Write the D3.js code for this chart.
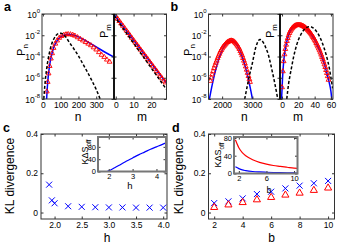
<!DOCTYPE html>
<html lang="en">
<head>
<meta charset="UTF-8">
<title>P_n / P_m distributions and KL divergence</title>
<script src="https://d3js.org/d3.v7.min.js"></script>
<style>
  body { margin: 0; background: #fff; }
  svg { font-family: Arial, "Liberation Sans", Helvetica, sans-serif; }
</style>
</head>
<body>
<div id="chart"></div>
<script>
// ---------- data (probabilities given as log10 values) ----------

// panel a, left (n)
const aBlueN   = [21, 25, 30, 40, 50, 60, 80, 100, 120, 140, 160, 200, 250, 300, 350, 400];
const aBlueLog = [-8, -6.9, -5.9, -4.6, -3.8, -3.2, -2.5, -2.15, -1.97, -1.9, -1.92, -2.15, -2.6, -3.1, -3.6, -4.05];
const aRedN    = [22, 27, 32, 38, 45, 52, 60, 70, 80, 92, 105, 118, 130, 142, 155, 168, 180, 195, 210, 225, 240, 255, 270, 285, 300, 315, 330, 345, 360, 375];
const aRedLog  = [-7.3, -6.4, -5.6, -4.9, -4.2, -3.7, -3.2, -2.8, -2.5, -2.25, -2.08, -1.97, -1.92, -1.9, -1.92, -1.97, -2.05, -2.2, -2.35, -2.5, -2.65, -2.8, -2.95, -3.15, -3.35, -3.6, -3.85, -4.05, -4.3, -4.5];
const aDashN   = [5, 10, 15, 20, 30, 40, 50, 60, 75, 90, 100, 115, 130, 150, 175, 200, 225, 250, 275, 300, 322];
const aDashLog = [-8, -6.9, -6.0, -5.3, -4.2, -3.4, -2.8, -2.4, -2.0, -1.82, -1.8, -1.9, -2.2, -2.7, -3.3, -3.95, -4.7, -5.45, -6.25, -7.1, -8];

// panel a, right (m)
const aMBlueM   = [-1, 5, 10, 15, 20, 25, 28.5];
const aMBlueLog = [-0.05, -1.35, -2.45, -3.55, -4.65, -5.75, -6.5];
const aMRedM    = [0, 1, 2, 3, 4, 5, 6, 7, 8, 9, 10, 11, 12, 13, 14, 15, 16, 17, 18, 19, 20, 21, 22, 23, 24, 25, 26, 27, 28];
const aMRedLog  = [-0.2, -0.45, -0.67, -0.9, -1.12, -1.35, -1.57, -1.8, -2.02, -2.25, -2.47, -2.7, -2.92, -3.14, -3.37, -3.59, -3.82, -4.04, -4.26, -4.49, -4.71, -4.94, -5.16, -5.38, -5.61, -5.83, -6.06, -6.28, -6.45];
const aMDashM   = [-1, 28.5];
const aMDashLog = [-0.15, -7.1];

// panel b, left (n)
const bBlueN   = [1580, 1650, 1750, 1850, 1950, 2050, 2150, 2250, 2300, 2350, 2450, 2550, 2650, 2750, 2850, 2950, 3000];
const bBlueLog = [-8, -6.97, -5.68, -4.61, -3.76, -3.13, -2.71, -2.52, -2.5, -2.54, -2.78, -3.24, -3.91, -4.81, -5.92, -7.25, -8];
const bRedN    = [1610, 1640, 1670, 1700, 1730, 1760, 1790, 1820, 1850, 1880, 1910, 1940, 1970, 2000, 2030, 2060, 2090, 2120, 2150, 2180, 2210, 2240, 2270, 2300, 2330, 2360, 2390, 2420, 2450, 2480, 2510, 2540, 2570, 2600, 2630, 2660, 2690, 2720, 2750, 2780, 2810, 2840, 2870, 2900, 2920];
const bRedLog  = [-6.3, -6.0, -5.7, -5.4, -5.1, -4.85, -4.6, -4.4, -4.15, -3.95, -3.75, -3.55, -3.4, -3.25, -3.1, -3.0, -2.9, -2.8, -2.7, -2.65, -2.6, -2.55, -2.52, -2.5, -2.52, -2.55, -2.6, -2.68, -2.77, -2.88, -3.0, -3.15, -3.3, -3.5, -3.7, -3.9, -4.15, -4.4, -4.65, -4.95, -5.25, -5.55, -5.85, -6.15, -6.4];
const bDashN   = [2745, 2800, 2850, 2900, 2950, 3000, 3050, 3100, 3150, 3200, 3250, 3300, 3350, 3400, 3450, 3500, 3550, 3600, 3650, 3700, 3750, 3800, 3850];
const bDashLog = [-8, -7.2, -6.5, -5.8, -5.2, -4.6, -3.9, -3.25, -2.8, -2.5, -2.4, -2.45, -2.65, -2.9, -3.25, -3.6, -4.1, -4.7, -5.35, -6.0, -6.7, -7.45, -8.2];

// panel b, right (m)
const bMBlueM   = [-0.6, 0, 0.5, 1, 2, 3, 4, 5, 6, 8, 10, 12, 14, 16, 18, 20, 22, 24, 26, 28, 30, 32, 34, 36, 38, 40, 42, 44, 46, 48, 50, 52, 54, 56, 58, 60, 61];
const bMBlueLog = [-8, -7.1, -6.2, -5.5, -4.5, -3.8, -3.3, -2.9, -2.55, -2.0, -1.62, -1.38, -1.21, -1.1, -1.05, -1.03, -1.04, -1.08, -1.15, -1.25, -1.38, -1.54, -1.72, -1.93, -2.17, -2.44, -2.74, -3.07, -3.43, -3.83, -4.27, -4.75, -5.28, -5.86, -6.5, -7.3, -8];
const bMRedM    = [0, 1, 2, 3, 4, 5, 6, 7, 8, 9, 10, 11, 12, 13, 14, 15, 16, 17, 18, 19, 20, 21, 22, 23, 24, 25, 26, 27, 28, 29, 30, 31, 32, 33, 34, 35, 36, 37, 38, 39, 40, 41, 42, 43, 44, 45, 46, 47, 48, 49, 50, 51, 52, 53, 54, 55, 56, 57];
const bMRedLog  = [-6.9, -5.4, -4.45, -3.8, -3.3, -2.9, -2.55, -2.27, -2.02, -1.8, -1.63, -1.49, -1.38, -1.29, -1.21, -1.15, -1.1, -1.07, -1.05, -1.04, -1.03, -1.03, -1.04, -1.06, -1.08, -1.11, -1.15, -1.2, -1.25, -1.31, -1.38, -1.46, -1.54, -1.63, -1.72, -1.82, -1.93, -2.05, -2.17, -2.3, -2.44, -2.58, -2.74, -2.9, -3.07, -3.25, -3.43, -3.63, -3.83, -4.05, -4.27, -4.5, -4.75, -5.0, -5.28, -5.56, -5.86, -6.2];
const bMDashM   = [5.8, 7, 8, 10, 12, 14, 16, 18, 20, 22, 24, 26, 28, 30, 32, 34, 36, 38, 40, 42, 44, 46, 48, 50, 52, 54, 56, 58, 60, 62];
const bMDashLog = [-8, -7.2, -6.6, -5.7, -4.9, -4.1, -3.45, -2.9, -2.45, -2.1, -1.8, -1.57, -1.4, -1.28, -1.21, -1.19, -1.22, -1.3, -1.43, -1.61, -1.84, -2.12, -2.45, -2.85, -3.3, -3.8, -4.4, -5.1, -6.0, -7.0];

// panel c
const cH  = [1.9, 1.95, 2.0, 2.25, 2.5, 2.75, 3.0, 3.25, 3.5, 3.75, 4.0];
const cKL = [0.142, 0.062, 0.047, 0.032, 0.029, 0.027, 0.026, 0.026, 0.025, 0.025, 0.025];
const cInsetH = [1.55, 1.93, 2.0, 2.25, 2.5, 2.75, 3.0, 3.25, 3.5, 3.75, 4.0, 4.25, 4.4];
const cInsetS = [0, 0, 2, 12, 23, 34, 44, 54, 63, 72, 80, 88, 93];

// panel d
const dB      = [2, 3, 4, 5, 6, 7, 8, 9, 10];
const dKLblue = [0.048, 0.057, 0.072, 0.094, 0.106, 0.123, 0.137, 0.149, 0.161];
const dKLred  = [0.026, 0.039, 0.051, 0.065, 0.077, 0.089, 0.099, 0.113, 0.125];
const dInsetB    = [1.5, 2, 2.5, 3, 4, 5, 6, 7, 8, 9, 10, 10.5];
const dInsetRed  = [76, 58, 47, 40, 31, 25, 21, 18, 16, 14, 12, 11.5];
const dInsetBlue = [15, 11, 8, 6.5, 4.5, 3.5, 2.8, 2.2, 1.8, 1.5, 1.2, 1.1];

const decades = [0, -2, -4, -6, -8];

// ---------- drawing ----------
const svg = d3.select('#chart').append('svg')
  .attr('width', 339).attr('height', 244);

const BLUE = '#0000ff', RED = '#ff0000';
const TICK_FS = 8.5, LABEL_FS = 12;
let clipId = 0;

function clipFor(x, y) {
  const id = 'clip' + (clipId++);
  const [x0, x1] = x.range(), [y1, y0] = y.range();
  svg.append('clipPath').attr('id', id).append('rect')
    .attr('x', x0).attr('y', y0).attr('width', x1 - x0).attr('height', y1 - y0);
  return svg.append('g').attr('clip-path', `url(#${id})`);
}

// ticks on all four sides, labels optional
function boxAxes(x, y, xt, yt, opt) {
  const [x0, x1] = x.range(), [y1, y0] = y.range();
  const g = svg.append('g');
  const pad = opt.pad || 3;
  const style = sel => {
    sel.select('.domain').remove();
    sel.selectAll('line').attr('stroke', '#333');
    sel.selectAll('text').attr('font-size', opt.fs || TICK_FS).attr('fill', '#000');
    sel.attr('font-family', null).attr('font-size', null);
  };
  g.append('g').attr('transform', `translate(0,${y1})`)
    .call(d3.axisBottom(x).tickValues(xt).tickSize(-2.5).tickPadding(pad)
      .tickFormat(opt.xFmt || (() => ''))).call(style);
  g.append('g').attr('transform', `translate(0,${y0})`)
    .call(d3.axisTop(x).tickValues(xt).tickSize(-2.5).tickFormat('')).call(style);
  g.append('g').attr('transform', `translate(${x0},0)`)
    .call(d3.axisLeft(y).tickValues(yt).tickSize(-2.5).tickPadding(pad)
      .tickFormat(opt.yFmt || (() => ''))).call(style);
  g.append('g').attr('transform', `translate(${x1},0)`)
    .call(d3.axisRight(y).tickValues(yt).tickSize(-2.5).tickFormat('')).call(style);
  g.append('rect').attr('x', x0).attr('y', y0).attr('width', x1 - x0).attr('height', y1 - y0)
    .attr('fill', 'none').attr('stroke', opt.frame || '#333').attr('stroke-width', opt.frameW || 1);
  return g;
}

function powLabels(y, xRight) {
  decades.forEach(e => {
    const t = svg.append('text').attr('x', xRight).attr('y', y(Math.pow(10, e)) + 3.5)
      .attr('text-anchor', 'end').attr('font-size', TICK_FS);
    t.append('tspan').text('10');
    t.append('tspan').attr('dy', -4.5).attr('font-size', 6).text(e);
  });
}

function pLine(g, x, y, xs, logs, color, dash) {
  const pts = xs.map((v, i) => [x(v), y(Math.pow(10, logs[i]))]);
  g.append('path').attr('d', d3.line().curve(d3.curveMonotoneX)(pts))
    .attr('fill', 'none').attr('stroke', color).attr('stroke-width', 1.5)
    .attr('stroke-dasharray', dash || null);
}

function triangles(g, pts, size, sw) {
  g.selectAll(null).data(pts).enter().append('path')
    .attr('d', d3.symbol(d3.symbolTriangle).size(size))
    .attr('transform', d => `translate(${d[0]},${d[1]})`)
    .attr('fill', 'none').attr('stroke', RED).attr('stroke-width', sw);
}

function crosses(g, pts, r) {
  g.selectAll(null).data(pts).enter().append('path')
    .attr('d', d => `M${d[0] - r},${d[1] - r}L${d[0] + r},${d[1] + r}M${d[0] - r},${d[1] + r}L${d[0] + r},${d[1] - r}`)
    .attr('stroke', BLUE).attr('stroke-width', 1).attr('fill', 'none');
}

function rotLabel(x, y, main, sub, fs) {
  const t = svg.append('text').attr('transform', `translate(${x},${y}) rotate(-90)`)
    .attr('text-anchor', 'middle').attr('font-size', fs);
  t.append('tspan').text(main);
  if (sub) t.append('tspan').attr('dy', fs * 0.3).attr('font-size', fs * 0.72).text(sub);
}

function text(x, y, s, fs, opts = {}) {
  return svg.append('text').attr('x', x).attr('y', y).attr('font-size', fs)
    .attr('text-anchor', opts.anchor || 'middle').attr('font-weight', opts.bold ? 'bold' : null)
    .text(s);
}

// distribution panel (a or b)
function distPanel(P) {
  const y = d3.scaleLog().domain([1e-8, 1]).range([99, 14]);
  const xL = d3.scaleLinear().domain(P.nDom).range([P.x0, P.xm]);
  const xR = d3.scaleLinear().domain(P.mDom).range([P.xm, P.x1]);
  const yTicks = decades.map(e => Math.pow(10, e));

  const gl = clipFor(xL, y);
  pLine(gl, xL, y, P.blueN, P.blueLog, BLUE);
  triangles(gl, P.redN.map((v, i) => [xL(v), y(Math.pow(10, P.redLog[i]))]), 10, 0.9);
  pLine(gl, xL, y, P.dashN, P.dashLog, '#000', '3,2');

  const gr = clipFor(xR, y);
  pLine(gr, xR, y, P.mBlueM, P.mBlueLog, BLUE);
  triangles(gr, P.mRedM.map((v, i) => [xR(v), y(Math.pow(10, P.mRedLog[i]))]), 10, 0.9);
  pLine(gr, xR, y, P.mDashM, P.mDashLog, '#000', '3,2');

  boxAxes(xL, y, P.nTicks, yTicks, { xFmt: d => d });
  boxAxes(xR, y, P.mTicks, yTicks, { xFmt: d => d });
  svg.append('line').attr('x1', P.xm).attr('x2', P.xm).attr('y1', 14).attr('y2', 99)
    .attr('stroke', '#000').attr('stroke-width', 1.6);
  powLabels(y, P.x0 - 2);

  rotLabel(P.x0 - 17, 50, 'P', 'n', 11);
  rotLabel(P.xm - 6, 31, 'P', 'm', 11);
  text((P.x0 + P.xm) / 2, 120.5, 'n', LABEL_FS);
  text(P.mLabelX, 120.5, 'm', LABEL_FS);
  text(P.x0 - 38, 11, P.letter, 12.5, { anchor: 'start', bold: true });
}

distPanel({
  letter: 'a', x0: 42, xm: 114, x1: 166.5, nDom: [-5, 400], mDom: [-1, 28.5],
  nTicks: [0, 100, 200, 300], mTicks: [0, 10, 20], mLabelX: 142,
  blueN: aBlueN, blueLog: aBlueLog, redN: aRedN, redLog: aRedLog, dashN: aDashN, dashLog: aDashLog,
  mBlueM: aMBlueM, mBlueLog: aMBlueLog, mRedM: aMRedM, mRedLog: aMRedLog, mDashM: aMDashM, mDashLog: aMDashLog
});

distPanel({
  letter: 'b', x0: 208.5, xm: 280, x1: 333, nDom: [1550, 3910], mDom: [-2.5, 62.5],
  nTicks: [2000, 3000], mTicks: [0, 20, 40, 60], mLabelX: 298,
  blueN: bBlueN, blueLog: bBlueLog, redN: bRedN, redLog: bRedLog, dashN: bDashN, dashLog: bDashLog,
  mBlueM: bMBlueM, mBlueLog: bMBlueLog, mRedM: bMRedM, mRedLog: bMRedLog, mDashM: bMDashM, mDashLog: bMDashLog
});

// KL panels (c and d)
const klY = d3.scaleLinear().domain([-0.033, 0.4]).range([219, 134]);
const klFmt = d => d === 0 ? '0' : d3.format('.1f')(d);

// panel c
const cx = d3.scaleLinear().domain([1.75, 4.07]).range([41, 167]);
boxAxes(cx, klY, [2, 2.5, 3, 3.5, 4], [0, 0.2, 0.4], { xFmt: d3.format('.1f'), yFmt: klFmt });
crosses(svg.append('g'), cH.map((v, i) => [cx(v), klY(cKL[i])]), 3);
text(107, 241.5, 'h', LABEL_FS);
rotLabel(14, 176, 'KL divergence', null, LABEL_FS);
text(3, 132, 'c', 12.5, { anchor: 'start', bold: true });

const cix = d3.scaleLinear().domain([1.55, 4.4]).range([98, 166]);
const ciy = d3.scaleLinear().domain([0, 112]).range([171.5, 137]);
svg.append('rect').attr('x', 98).attr('y', 137).attr('width', 68).attr('height', 34.5).attr('fill', '#fff');
const gci = clipFor(cix, ciy);
gci.append('path').attr('d', d3.line().curve(d3.curveMonotoneX)(cInsetH.map((v, i) => [cix(v), ciy(cInsetS[i])])))
  .attr('fill', 'none').attr('stroke', BLUE).attr('stroke-width', 1.2);
boxAxes(cix, ciy, [2, 3, 4], [0, 40, 80], { xFmt: d => d, yFmt: d => d, fs: 7.5, pad: 2, frame: '#777', frameW: 2 });
text(130, 188.5, 'h', 9.5);
rotLabel(88, 152, 'KΔS', 'off', 9);

// panel d
const dx = d3.scaleLinear().domain([1.6, 10.45]).range([208.5, 334.5]);
boxAxes(dx, klY, [2, 4, 6, 8, 10], [0, 0.2, 0.4], { xFmt: d => d, yFmt: klFmt });
const gd = svg.append('g');
crosses(gd, dB.map((v, i) => [dx(v), klY(dKLblue[i])]), 3);
triangles(gd, dB.map((v, i) => [dx(v), klY(dKLred[i])]), 22, 1);
text(271.5, 241.5, 'b', LABEL_FS);
rotLabel(183, 176, 'KL divergence', null, LABEL_FS);
text(172, 132, 'd', 12.5, { anchor: 'start', bold: true });

const dix = d3.scaleLinear().domain([1.3, 10.5]).range([234, 297.5]);
const diy = d3.scaleLinear().domain([0, 82]).range([173.5, 137]);
svg.append('rect').attr('x', 234).attr('y', 137).attr('width', 63.5).attr('height', 36.5).attr('fill', '#fff');
const gdi = clipFor(dix, diy);
gdi.append('path').attr('d', d3.line().curve(d3.curveMonotoneX)(dInsetB.map((v, i) => [dix(v), diy(dInsetRed[i])])))
  .attr('fill', 'none').attr('stroke', RED).attr('stroke-width', 1.2);
gdi.append('path').attr('d', d3.line().curve(d3.curveMonotoneX)(dInsetB.map((v, i) => [dix(v), diy(dInsetBlue[i])])))
  .attr('fill', 'none').attr('stroke', BLUE).attr('stroke-width', 1.2);
boxAxes(dix, diy, [2, 6, 10], [0, 40, 80], { xFmt: d => d, yFmt: d => d, fs: 7.5, pad: 2, frame: '#777', frameW: 2 });
text(269, 192.5, 'b', 9);
rotLabel(221, 155, 'KΔS', 'off', 9);
</script>
</body>
</html>
